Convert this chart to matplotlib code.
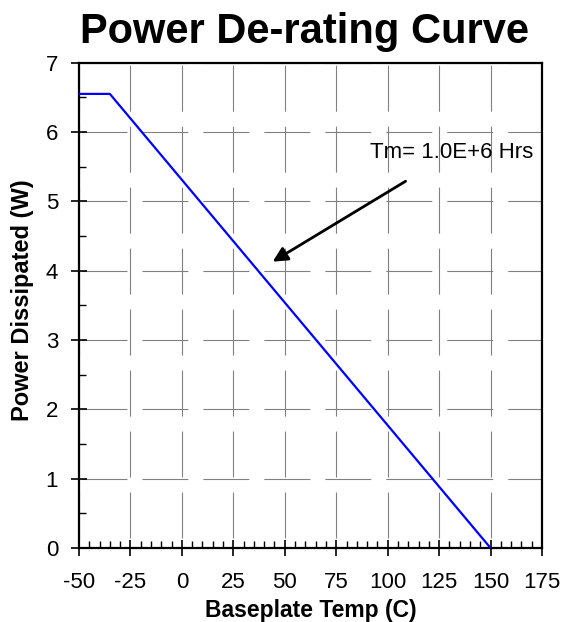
import matplotlib
matplotlib.use("Agg")
import matplotlib.pyplot as plt
from matplotlib.ticker import MultipleLocator

plt.rcParams['font.family'] = ['Liberation Sans', 'DejaVu Sans']
plt.rcParams['lines.scale_dashes'] = False
plt.rcParams['axes.unicode_minus'] = False

# derating curve: flat up to -35 C, then linear down to zero at 150 C
temps = [-50, -35, 150]
power = [6.55, 6.55, 0.0]

x_ticks = [-50, -25, 0, 25, 50, 75, 100, 125, 150, 175]
y_ticks = [0, 1, 2, 3, 4, 5, 6, 7]

note_text = "Tm= 1.0E+6 Hrs"
arrow_tail = (108.7, 5.29)
arrow_head = (44.1, 4.13)

fig = plt.figure(figsize=(5.64, 6.22), dpi=100)
ax = fig.add_axes([79 / 564, 1 - 548 / 622, 463 / 564, (548 - 62.7) / 622])

ax.plot(temps, power, color='#0000ff', lw=1.6, zorder=3)

ax.set_xlim(-50, 175)
ax.set_ylim(0, 7)
ax.set_xticks(x_ticks)
ax.set_yticks(y_ticks)
ax.xaxis.set_minor_locator(MultipleLocator(5))
ax.yaxis.set_minor_locator(MultipleLocator(0.5))

ax.tick_params(which='major', direction='inout', length=12, width=1.2,
               labelsize=16, top=False, right=False)
ax.tick_params(which='minor', direction='in', length=5, width=1,
               top=False, right=False)
ax.tick_params(axis='x', which='major', pad=11)
ax.tick_params(axis='y', which='major', pad=9)

for s in ax.spines.values():
    s.set_linewidth(1.6)
    s.set_color('black')

ax.grid(axis='x', which='major', color='#808080', lw=0.8,
        linestyle=(36.7, (33.1, 10.8)))
ax.grid(axis='y', which='major', color='#808080', lw=0.8,
        linestyle=(42.5, (33.1, 10.8)))
ax.set_axisbelow(True)

ax.annotate('', xy=arrow_head, xytext=arrow_tail,
            arrowprops=dict(arrowstyle='-|>', color='black', lw=2,
                            mutation_scale=22, shrinkA=0, shrinkB=0))
ax.text(91.4, 5.63, note_text, fontsize=16, va='baseline', ha='left')

fig.text(304 / 564, 1 - 43 / 622, "Power De-rating Curve", fontsize=30,
         fontweight='bold', ha='center', va='baseline')
fig.text(311 / 564, 1 - 617 / 622, "Baseplate Temp (C)", fontsize=16.5,
         fontweight='bold', ha='center', va='baseline')
fig.text(23 / 564, 1 - 300 / 622, "Power Dissipated (W)", fontsize=17,
         fontweight='bold', ha='center', va='center', rotation=90)

fig.savefig("out.png", dpi=100)
